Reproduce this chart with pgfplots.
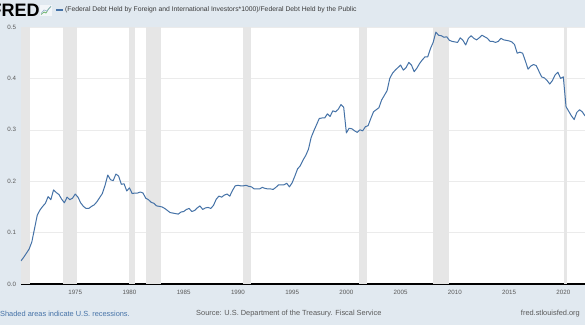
\documentclass[border=0pt]{standalone}
\usepackage{fontspec}
\setmainfont{Liberation Sans}
\usepackage{pgfplots}
\pgfplotsset{compat=1.18}
\definecolor{bg}{HTML}{E1E9F0}
\definecolor{fredblue}{HTML}{4572A7}
\definecolor{recgray}{HTML}{E6E6E6}
\definecolor{gridc}{HTML}{EBEBEB}
\definecolor{txt}{HTML}{595959}
\definecolor{dtxt}{HTML}{3A3A3A}
\begin{document}
\begin{tikzpicture}[x=1pt,y=1pt]
\useasboundingbox (0,0) rectangle (585,325);
\fill[bg] (0,0) rectangle (585,325);
\begin{axis}[
  at={(21pt,41pt)}, anchor=south west,
  width=564pt, height=257pt, scale only axis,
  xmin=1970, xmax=2022, ymin=0, ymax=0.5,
  axis x line*=bottom, axis y line*=left,
  x axis line style={draw=black, line width=1.3pt, -},
  y axis line style={draw=none},
  axis background/.style={fill=white},
  major tick length=0pt,
  ytick={0,0.1,0.2,0.3,0.4,0.5},
  yticklabel style={/pgf/number format/fixed, /pgf/number format/fixed zerofill, /pgf/number format/precision=1},
  xtick={1975,1980,...,2020},
  xticklabel style={/pgf/number format/1000 sep={}},
  /pgf/number format/assume math mode=true,
  tick label style={font=\fontsize{6.2}{7}\selectfont, text=txt},
  x tick label style={yshift=-3pt},
  y tick label style={xshift=-1.5pt},
  ymajorgrids, grid style={gridc, line width=0.6pt},
]
\addplot[fill=recgray, draw=none] coordinates {(1970,0) (1970,0.5) (1970.83,0.5) (1970.83,0)} -- cycle;
\addplot[fill=recgray, draw=none] coordinates {(1973.9,0) (1973.9,0.5) (1975.2,0.5) (1975.2,0)} -- cycle;
\addplot[fill=recgray, draw=none] coordinates {(1980.0,0) (1980.0,0.5) (1980.5,0.5) (1980.5,0)} -- cycle;
\addplot[fill=recgray, draw=none] coordinates {(1981.5,0) (1981.5,0.5) (1982.9,0.5) (1982.9,0)} -- cycle;
\addplot[fill=recgray, draw=none] coordinates {(1990.5,0) (1990.5,0.5) (1991.2,0.5) (1991.2,0)} -- cycle;
\addplot[fill=recgray, draw=none] coordinates {(2001.2,0) (2001.2,0.5) (2001.9,0.5) (2001.9,0)} -- cycle;
\addplot[fill=recgray, draw=none] coordinates {(2007.95,0) (2007.95,0.5) (2009.5,0.5) (2009.5,0)} -- cycle;
\addplot[fill=recgray, draw=none] coordinates {(2020.1,0) (2020.1,0.5) (2020.35,0.5) (2020.35,0)} -- cycle;
\addplot[fredblue, line width=1pt, line join=round] coordinates {
(1970.0,0.045) (1970.25,0.052) (1970.5,0.060) (1970.75,0.068)
(1971.0,0.082) (1971.25,0.108) (1971.5,0.134) (1971.75,0.144)
(1972.0,0.151) (1972.25,0.157) (1972.5,0.170) (1972.75,0.164)
(1973.0,0.183) (1973.25,0.178) (1973.5,0.174) (1973.75,0.165)
(1974.0,0.158) (1974.25,0.169) (1974.5,0.164) (1974.75,0.167)
(1975.0,0.175) (1975.25,0.169) (1975.5,0.158) (1975.75,0.151)
(1976.0,0.147) (1976.25,0.147) (1976.5,0.151) (1976.75,0.154)
(1977.0,0.160) (1977.25,0.168) (1977.5,0.176) (1977.75,0.192)
(1978.0,0.212) (1978.25,0.203) (1978.5,0.201) (1978.75,0.214)
(1979.0,0.210) (1979.25,0.194) (1979.5,0.195) (1979.75,0.181)
(1980.0,0.187) (1980.25,0.176) (1980.5,0.177) (1980.75,0.177)
(1981.0,0.179) (1981.25,0.177) (1981.5,0.167) (1981.75,0.164)
(1982.0,0.159) (1982.25,0.157) (1982.5,0.152) (1982.75,0.151)
(1983.0,0.150) (1983.25,0.147) (1983.5,0.143) (1983.75,0.139)
(1984.0,0.138) (1984.25,0.137) (1984.5,0.136) (1984.75,0.140)
(1985.0,0.141) (1985.25,0.145) (1985.5,0.147) (1985.75,0.141)
(1986.0,0.143) (1986.25,0.148) (1986.5,0.152) (1986.75,0.145)
(1987.0,0.148) (1987.25,0.149) (1987.5,0.147) (1987.75,0.153)
(1988.0,0.165) (1988.25,0.171) (1988.5,0.169) (1988.75,0.173)
(1989.0,0.175) (1989.25,0.171) (1989.5,0.182) (1989.75,0.191)
(1990.0,0.192) (1990.25,0.191) (1990.5,0.191) (1990.75,0.192)
(1991.0,0.190) (1991.25,0.189) (1991.5,0.185) (1991.75,0.185)
(1992.0,0.185) (1992.25,0.188) (1992.5,0.186) (1992.75,0.185)
(1993.0,0.185) (1993.25,0.184) (1993.5,0.188) (1993.75,0.193)
(1994.0,0.193) (1994.25,0.193) (1994.5,0.196) (1994.75,0.189)
(1995.0,0.197) (1995.25,0.210) (1995.5,0.224) (1995.75,0.230)
(1996.0,0.241) (1996.25,0.250) (1996.5,0.262) (1996.75,0.285)
(1997.0,0.298) (1997.25,0.310) (1997.5,0.322) (1997.75,0.323)
(1998.0,0.323) (1998.25,0.331) (1998.5,0.326) (1998.75,0.337)
(1999.0,0.335) (1999.25,0.340) (1999.5,0.349) (1999.75,0.344)
(2000.0,0.294) (2000.25,0.303) (2000.5,0.302) (2000.75,0.298)
(2001.0,0.295) (2001.25,0.300) (2001.5,0.298) (2001.75,0.306)
(2002.0,0.308) (2002.25,0.322) (2002.5,0.335) (2002.75,0.339)
(2003.0,0.343) (2003.25,0.358) (2003.5,0.367) (2003.75,0.376)
(2004.0,0.400) (2004.25,0.410) (2004.5,0.416) (2004.75,0.421)
(2005.0,0.426) (2005.25,0.416) (2005.5,0.421) (2005.75,0.431)
(2006.0,0.426) (2006.25,0.413) (2006.5,0.420) (2006.75,0.429)
(2007.0,0.436) (2007.25,0.442) (2007.5,0.442) (2007.75,0.458)
(2008.0,0.470) (2008.25,0.490) (2008.5,0.484) (2008.75,0.483)
(2009.0,0.480) (2009.25,0.481) (2009.5,0.474) (2009.75,0.472)
(2010.0,0.471) (2010.25,0.470) (2010.5,0.479) (2010.75,0.474)
(2011.0,0.465) (2011.25,0.478) (2011.5,0.483) (2011.75,0.478)
(2012.0,0.475) (2012.25,0.479) (2012.5,0.484) (2012.75,0.481)
(2013.0,0.478) (2013.25,0.472) (2013.5,0.472) (2013.75,0.470)
(2014.0,0.472) (2014.25,0.478) (2014.5,0.475) (2014.75,0.474)
(2015.0,0.473) (2015.25,0.471) (2015.5,0.466) (2015.75,0.449)
(2016.0,0.451) (2016.25,0.449) (2016.5,0.434) (2016.75,0.418)
(2017.0,0.424) (2017.25,0.427) (2017.5,0.425) (2017.75,0.414)
(2018.0,0.403) (2018.25,0.401) (2018.5,0.396) (2018.75,0.389)
(2019.0,0.396) (2019.25,0.407) (2019.5,0.412) (2019.75,0.400)
(2020.0,0.403) (2020.25,0.345) (2020.5,0.336) (2020.75,0.327)
(2021.0,0.320) (2021.25,0.334) (2021.5,0.339) (2021.75,0.335)
(2022.0,0.327)
};
\end{axis}
% header
\node[anchor=west, inner sep=0, font=\bfseries\fontsize{18}{18}\selectfont, text=black] at (-9.5,314.5) {FRED};
\fill[white!60!bg] (40,309) rectangle (52,320);
\draw[green!50!black!60, line width=0.7pt] (41,310.5) -- (44,313) -- (46,312) -- (48.5,316) -- (51,318.5);
\draw[fredblue!60, line width=0.5pt] (41,311.5) -- (44,315) -- (47,314) -- (51,319);
\draw[fredblue, line width=1.1pt] (56,315) -- (63,315);
\node[anchor=west, inner sep=0, font=\fontsize{6.8}{8}\selectfont, text=dtxt] at (65,315) {(Federal Debt Held by Foreign and International Investors*1000)/Federal Debt Held by the Public};
% footer
\node[anchor=west, inner sep=0, font=\fontsize{7.4}{8.5}\selectfont, text=fredblue] at (0,11) {Shaded areas indicate U.S. recessions.};
\node[anchor=west, inner sep=0, font=\fontsize{7.4}{8.5}\selectfont, text=txt] at (196,11) {Source: U.S. Department of the Treasury. Fiscal Service};
\node[anchor=east, inner sep=0, font=\fontsize{7.4}{8.5}\selectfont, text=txt] at (580,11) {fred.stlouisfed.org};
\end{tikzpicture}
\end{document}
